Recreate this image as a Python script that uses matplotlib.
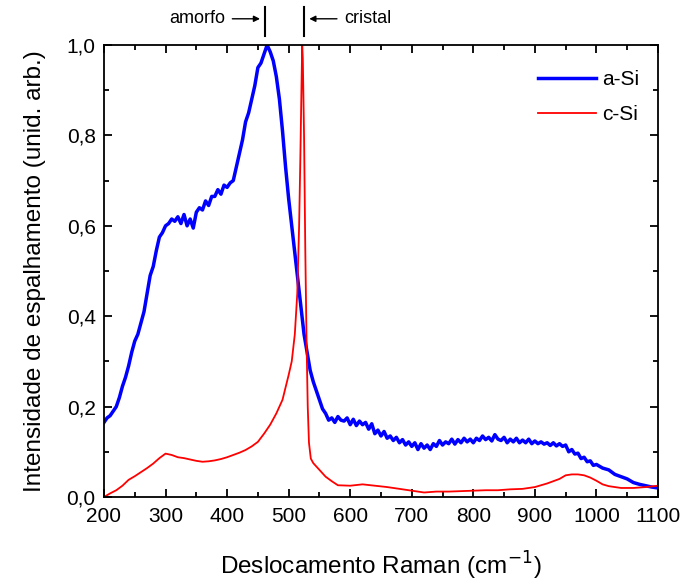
import matplotlib
matplotlib.use("Agg")
import matplotlib.pyplot as plt
from matplotlib.ticker import MultipleLocator, FuncFormatter

# a-Si (amorphous) Raman spectrum
asi_x = [200, 205, 210, 215, 220, 225, 230, 235, 240, 245, 250, 255, 260, 265,
         270, 275, 280, 285, 290, 295, 300, 305, 310, 315, 320, 325, 330, 335,
         340, 345, 350, 355, 360, 365, 370, 375, 380, 385, 390, 395, 400, 405,
         410, 415, 420, 425, 430, 435, 440, 445, 450, 455, 460, 465, 470, 475,
         480, 485, 490, 495, 500, 505, 510, 515, 520, 525, 530, 535, 540, 545,
         550, 555, 560, 565, 570, 575, 580, 585, 590, 595, 600, 605, 610, 615,
         620, 625, 630, 635, 640, 645, 650, 655, 660, 665, 670, 675, 680, 685,
         690, 695, 700, 705, 710, 715, 720, 725, 730, 735, 740, 745, 750, 755,
         760, 765, 770, 775, 780, 785, 790, 795, 800, 805, 810, 815, 820, 825,
         830, 835, 840, 845, 850, 855, 860, 865, 870, 875, 880, 885, 890, 895,
         900, 905, 910, 915, 920, 925, 930, 935, 940, 945, 950, 955, 960, 965,
         970, 975, 980, 985, 990, 995, 1000, 1010, 1020, 1030, 1040, 1050,
         1060, 1070, 1080, 1090, 1100]
asi_y = [0.165, 0.175, 0.18, 0.19, 0.20, 0.22, 0.245, 0.265, 0.29, 0.32, 0.345,
         0.36, 0.385, 0.41, 0.45, 0.49, 0.51, 0.545, 0.575, 0.585, 0.60, 0.605,
         0.615, 0.61, 0.62, 0.605, 0.625, 0.60, 0.615, 0.595, 0.63, 0.64, 0.635,
         0.655, 0.645, 0.665, 0.665, 0.68, 0.67, 0.69, 0.685, 0.695, 0.70, 0.73,
         0.76, 0.79, 0.83, 0.85, 0.88, 0.91, 0.95, 0.96, 0.98, 1.0, 0.985, 0.965,
         0.93, 0.88, 0.81, 0.73, 0.66, 0.60, 0.54, 0.48, 0.42, 0.36, 0.32, 0.28,
         0.255, 0.235, 0.215, 0.195, 0.185, 0.17, 0.175, 0.165, 0.178, 0.17,
         0.168, 0.175, 0.16, 0.172, 0.158, 0.168, 0.16, 0.165, 0.15, 0.162,
         0.14, 0.148, 0.135, 0.145, 0.13, 0.135, 0.125, 0.132, 0.12, 0.127,
         0.115, 0.122, 0.112, 0.12, 0.105, 0.118, 0.108, 0.115, 0.105, 0.118,
         0.112, 0.125, 0.115, 0.122, 0.118, 0.128, 0.117, 0.127, 0.12, 0.13,
         0.122, 0.128, 0.12, 0.13, 0.125, 0.135, 0.127, 0.132, 0.124, 0.138,
         0.128, 0.125, 0.132, 0.12, 0.128, 0.122, 0.13, 0.12, 0.126, 0.12,
         0.128, 0.118, 0.124, 0.118, 0.122, 0.117, 0.12, 0.114, 0.12, 0.113,
         0.118, 0.112, 0.115, 0.1, 0.105, 0.095, 0.097, 0.085, 0.088, 0.078,
         0.08, 0.07, 0.072, 0.064, 0.06, 0.05, 0.045, 0.04, 0.032, 0.028, 0.025,
         0.022, 0.02]

# c-Si (crystalline) spectrum
csi_x = [200, 210, 220, 230, 240, 250, 260, 270, 280, 290, 300, 310, 320, 330,
         340, 350, 360, 370, 380, 390, 400, 410, 420, 430, 440, 450, 460, 470,
         480, 490, 500, 505, 510, 514, 517, 519, 521, 522, 523, 525, 527, 529,
         531, 533, 536, 540, 550, 560, 570, 580, 600, 620, 640, 660, 680, 700,
         720, 740, 760, 780, 800, 820, 840, 860, 880, 900, 920, 940, 950, 960,
         970, 980, 990, 1000, 1010, 1020, 1040, 1060, 1080, 1100]
csi_y = [0.0, 0.008, 0.015, 0.025, 0.038, 0.046, 0.055, 0.064, 0.074, 0.086,
         0.096, 0.093, 0.088, 0.086, 0.083, 0.08, 0.078, 0.079, 0.081, 0.084,
         0.088, 0.093, 0.098, 0.104, 0.112, 0.122, 0.14, 0.16, 0.185, 0.215,
         0.27, 0.30, 0.36, 0.45, 0.60, 0.75, 0.92, 1.0, 0.97, 0.80, 0.55, 0.35,
         0.20, 0.12, 0.085, 0.075, 0.06, 0.045, 0.035, 0.026, 0.025, 0.028,
         0.025, 0.022, 0.018, 0.014, 0.01, 0.012, 0.012, 0.013, 0.014, 0.015,
         0.015, 0.017, 0.018, 0.022, 0.03, 0.04, 0.048, 0.05, 0.05, 0.048,
         0.043, 0.036, 0.028, 0.024, 0.02, 0.02, 0.022, 0.025]

# positions of the two markers above the frame
AMORFO_X = 462
CRISTAL_X = 525

plt.rcParams["font.family"] = ["Liberation Sans", "DejaVu Sans"]

fig = plt.figure(figsize=(6.81, 5.83), dpi=100)
ax = fig.add_axes([0.1527, 0.1475, 0.8135, 0.7753])

ax.plot(asi_x, asi_y, color="#0000ff", lw=2.5, label="a-Si")
ax.plot(csi_x, csi_y, color="#ff0000", lw=1.3, label="c-Si")

ax.set_xlim(200, 1100)
ax.set_ylim(0, 1.0)
ax.xaxis.set_major_locator(MultipleLocator(100))
ax.xaxis.set_minor_locator(MultipleLocator(50))
ax.yaxis.set_major_locator(MultipleLocator(0.2))
ax.yaxis.set_minor_locator(MultipleLocator(0.1))
ax.yaxis.set_major_formatter(FuncFormatter(lambda v, p: f"{v:.1f}".replace(".", ",")))
ax.tick_params(which="both", direction="in", top=True, right=True, width=1.3)
ax.tick_params(which="major", length=6, labelsize=15)
ax.tick_params(which="minor", length=3.5)
ax.tick_params(axis="x", which="major", pad=7)
ax.tick_params(axis="y", which="major", pad=6)
for s in ax.spines.values():
    s.set_linewidth(1.3)

ax.set_xlabel("Deslocamento Raman (cm$^{-1}$)", fontsize=17.5, labelpad=17)
ax.set_ylabel("Intensidade de espalhamento (unid. arb.)", fontsize=17.5, labelpad=15)

ax.legend(loc="upper right", bbox_to_anchor=(0.966, 0.944), frameon=False,
          fontsize=15, handlelength=2.75, handletextpad=0.3,
          borderaxespad=0, borderpad=0, labelspacing=0.75)

# markers above the frame
tr = ax.get_xaxis_transform()
for xv in (AMORFO_X, CRISTAL_X):
    ax.plot([xv, xv], [1.02, 1.084], color="black", lw=1.5, transform=tr, clip_on=False)
ax.annotate("", xy=(AMORFO_X - 4, 1.058), xytext=(AMORFO_X - 58, 1.058), xycoords=tr,
            textcoords=tr, arrowprops=dict(arrowstyle="-|>", color="black", lw=1, mutation_scale=9))
ax.text(AMORFO_X - 65, 1.058, "amorfo", transform=tr, ha="right", va="center", fontsize=13)
ax.annotate("", xy=(CRISTAL_X + 4, 1.058), xytext=(CRISTAL_X + 58, 1.058), xycoords=tr,
            textcoords=tr, arrowprops=dict(arrowstyle="-|>", color="black", lw=1, mutation_scale=9))
ax.text(CRISTAL_X + 65, 1.058, "cristal", transform=tr, ha="left", va="center", fontsize=13)

fig.savefig("out.png", dpi=100)
